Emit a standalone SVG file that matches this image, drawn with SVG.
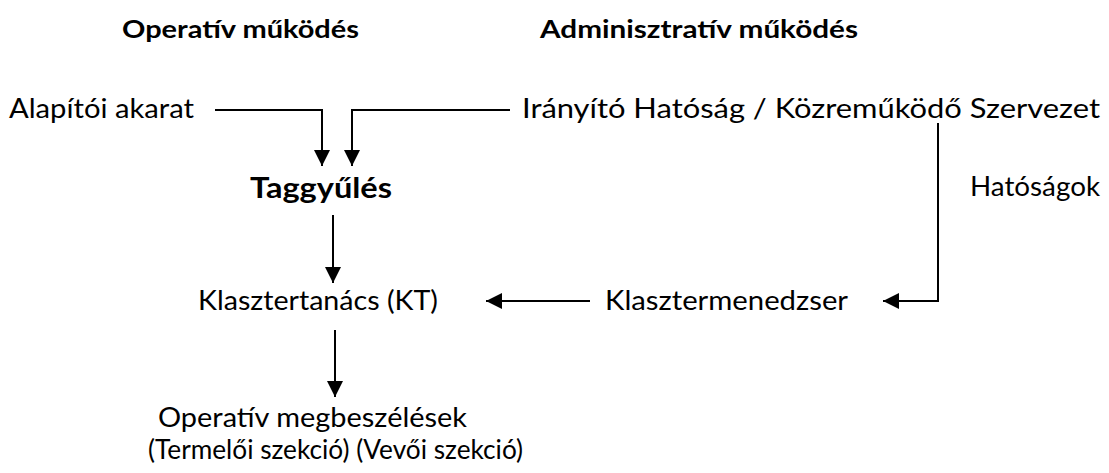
<svg xmlns="http://www.w3.org/2000/svg" width="1109" height="473" viewBox="0 0 1109 473">
  <style>
    text { font-family: Lato, "Open Sans", "Liberation Sans", sans-serif; fill: #000; }
    .t { font-size: 26px; }
    .h { font-size: 25px; font-weight: bold; }
    .b { font-size: 29px; font-weight: bold; }
    .c { fill: none; stroke: #000; stroke-width: 2; }
  </style>
  <defs>
    <marker id="arr" viewBox="0 0 16 16" refX="16" refY="8" markerWidth="16" markerHeight="16" markerUnits="userSpaceOnUse" orient="auto">
      <path d="M0,0 L16,8 L0,16 Z" fill="#000"/>
    </marker>
  </defs>
  <g id="headers">
    <text class="h" x="122" y="38" textLength="237" lengthAdjust="spacingAndGlyphs">Operatív működés</text>
    <text class="h" x="540" y="38" textLength="318" lengthAdjust="spacingAndGlyphs">Adminisztratív működés</text>
  </g>
  <g id="alapitoi"><text class="t" x="9" y="118" textLength="185" lengthAdjust="spacingAndGlyphs">Alapítói akarat</text></g>
  <g id="iranyito"><text class="t" x="522" y="118" textLength="578" lengthAdjust="spacingAndGlyphs">Irányító Hatóság / Közreműködő Szervezet</text></g>
  <g id="taggyules"><text class="b" x="250" y="198" textLength="142" lengthAdjust="spacingAndGlyphs">Taggyűlés</text></g>
  <g id="hatosagok"><text class="t" x="970" y="196" textLength="130" lengthAdjust="spacingAndGlyphs">Hatóságok</text></g>
  <g id="klasztertanacs"><text class="t" x="198" y="310" textLength="240" lengthAdjust="spacingAndGlyphs">Klasztertanács (KT)</text></g>
  <g id="klasztermenedzser"><text class="t" x="605" y="310" textLength="243" lengthAdjust="spacingAndGlyphs">Klasztermenedzser</text></g>
  <g id="operativ">
    <text class="t" x="158" y="427" textLength="309" lengthAdjust="spacingAndGlyphs">Operatív megbeszélések</text>
    <text class="t" x="148" y="459" textLength="375" lengthAdjust="spacingAndGlyphs">(Termelői szekció) (Vevői szekció)</text>
  </g>
  <g id="connectors">
    <path class="c" d="M215,110 H322 V166" marker-end="url(#arr)"/>
    <path class="c" d="M510,110 H352 V166" marker-end="url(#arr)"/>
    <path class="c" d="M333,215 V283" marker-end="url(#arr)"/>
    <path class="c" d="M590,301 H486" marker-end="url(#arr)"/>
    <path class="c" d="M938,123 V301 H883" marker-end="url(#arr)"/>
    <path class="c" d="M335,330 V397" marker-end="url(#arr)"/>
  </g>
</svg>
